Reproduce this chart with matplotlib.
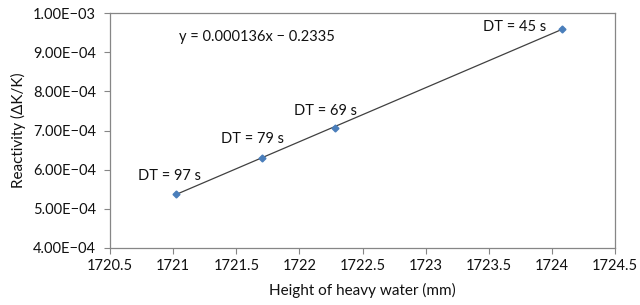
import numpy as np
import matplotlib
matplotlib.use("Agg")
import matplotlib.pyplot as plt
from matplotlib.ticker import FuncFormatter

plt.rcParams['font.family'] = ['Lato', 'DejaVu Sans']

# data
height = [1721.02, 1721.70, 1722.28, 1724.08]
reactivity = [5.38e-4, 6.31e-4, 7.06e-4, 9.60e-4]
labels = ['DT = 97 s', 'DT = 79 s', 'DT = 69 s', 'DT = 45 s']
offsets = [(-6, 18), (-9, 19), (-9, 17), (-47, 2)]

fig = plt.figure(figsize=(6.4, 3.05), dpi=100)
ax = fig.add_axes([0.172, 0.187, 0.789, 0.770])

# linear trendline
k, b = np.polyfit(height, reactivity, 1)
xs = np.array([height[0], height[-1]])
ax.plot(xs, k * xs + b, color='#404040', lw=0.9, zorder=2)
ax.plot(height, reactivity, 'D', color='#4a7ebb', ms=3.5, zorder=3)

for x, y, t, (dx, dy) in zip(height, reactivity, labels, offsets):
    ax.annotate(t, (x, y), xytext=(dx, dy), textcoords='offset pixels',
                ha='center', va='center', fontsize=10.5, color='#111111')

ax.text(0.29, 0.898, 'y = 0.000136x \u2212 0.2335', transform=ax.transAxes,
        ha='center', va='center', fontsize=10.5, color='#111111')

ax.set_xlim(1720.5, 1724.5)
ax.set_ylim(4e-4, 1e-3)
ax.set_xticks(np.arange(1720.5, 1724.51, 0.5))
ax.set_xticklabels(['1720.5', '1721', '1721.5', '1722', '1722.5', '1723',
                    '1723.5', '1724', '1724.5'])
ax.set_yticks(np.arange(4e-4, 1.0001e-3, 1e-4))
ax.yaxis.set_major_formatter(FuncFormatter(
    lambda v, p: ('%.2E' % v).replace('-', '\u2212')))

for s in ax.spines.values():
    s.set_color('#868686')
    s.set_linewidth(0.9)
ax.tick_params(direction='out', length=4, color='#868686', labelsize=10.5,
               labelcolor='#111111')
ax.tick_params(axis='y', pad=6)
ax.tick_params(axis='x', pad=4)

ax.set_xlabel('Height of heavy water (mm)', fontsize=11, labelpad=7,
              color='#111111')
ax.set_ylabel('Reactivity (\u0394K/K)', fontsize=11, labelpad=5,
              color='#111111')

fig.savefig('out.png', dpi=100)
